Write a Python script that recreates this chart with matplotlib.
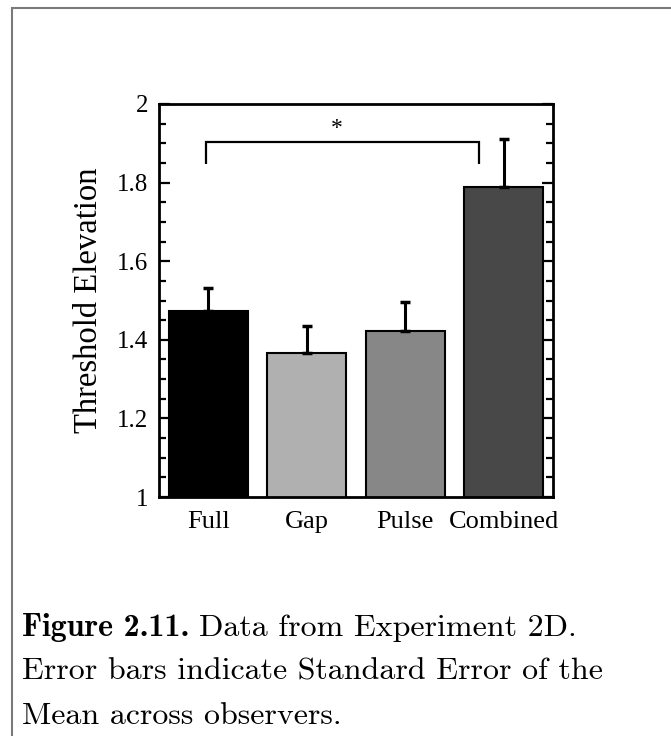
import numpy as np
import matplotlib
matplotlib.use("Agg")
import matplotlib.pyplot as plt
from matplotlib.patches import Rectangle
from matplotlib.ticker import MultipleLocator

conditions = ["Full", "Gap", "Pulse", "Combined"]
means = [1.473, 1.366, 1.422, 1.788]
sems = [0.060, 0.069, 0.074, 0.123]
bar_colors = ["#000000", "#b0b0b0", "#878787", "#484848"]
y_ticks = [1, 1.2, 1.4, 1.6, 1.8, 2]
y_ticklabels = ["1", "1.2", "1.4", "1.6", "1.8", "2"]

# significance bracket between Full and Combined
bracket_x = [0.98, 3.75]
bracket_top = 1.904
bracket_low = 1.847

serif = ["Liberation Serif", "DejaVu Serif"]

fig = plt.figure(figsize=(6.71, 7.36), dpi=100)
ax = fig.add_axes([159 / 671, 1 - 497 / 736, 394 / 671, 393 / 736])

x = np.arange(1, len(conditions) + 1)
ax.bar(x, means, width=0.8, color=bar_colors, edgecolor="black", linewidth=1.5, zorder=2)
ax.errorbar(x, means, yerr=[np.zeros(len(sems)), sems], fmt="none", ecolor="black",
            elinewidth=2.2, capsize=3.5, capthick=2.5, zorder=3)

ax.plot([bracket_x[0], bracket_x[0], bracket_x[1], bracket_x[1]],
        [bracket_low, bracket_top, bracket_top, bracket_low], color="black", lw=1.6,
        solid_capstyle="butt", solid_joinstyle="miter")
ax.text(2.3, bracket_top + 0.008, "*", ha="center", va="bottom", fontsize=17, family=serif)

ax.set_xlim(0.5, 4.5)
ax.set_ylim(1, 2)
ax.set_xticks(x)
ax.set_xticklabels(conditions, family=serif, fontsize=19)
ax.set_yticks(y_ticks)
ax.set_yticklabels(y_ticklabels, family=serif, fontsize=18)
ax.yaxis.set_minor_locator(MultipleLocator(0.05))
ax.tick_params(axis="x", length=0, pad=10)
ax.tick_params(axis="y", which="both", direction="in", left=True, right=True, width=1.6)
ax.tick_params(axis="y", which="major", length=8, pad=8)
ax.tick_params(axis="y", which="minor", length=5)
for s in ax.spines.values():
    s.set_linewidth(2)
ax.set_ylabel("Threshold Elevation", family=serif, fontsize=23.5, labelpad=9)

# figure frame (only top and left edges fall inside the image)
fig.patches.append(Rectangle((11.5 / 671, -0.1), 1.2, 1 - 7.5 / 736 + 0.1, transform=fig.transFigure,
                             fill=False, edgecolor="#7a7a7a", linewidth=1.5))

cap_x = 22.5 / 671
cap_size = 23
bold = fig.text(cap_x, 1 - 636 / 736, "Figure 2.11.", family="cmb10", fontsize=cap_size,
                va="baseline")
fig.canvas.draw()
bb = bold.get_window_extent()
fig.text((bb.x1 + 9) / 671, 1 - 636 / 736, "Data from Experiment 2D.",
         family="cmr10", fontsize=cap_size, va="baseline")
fig.text(cap_x, 1 - 680 / 736, "Error bars indicate Standard Error of the",
         family="cmr10", fontsize=cap_size, va="baseline")
fig.text(cap_x, 1 - 724 / 736, "Mean across observers.",
         family="cmr10", fontsize=cap_size, va="baseline")

fig.savefig("out.png", dpi=100)
